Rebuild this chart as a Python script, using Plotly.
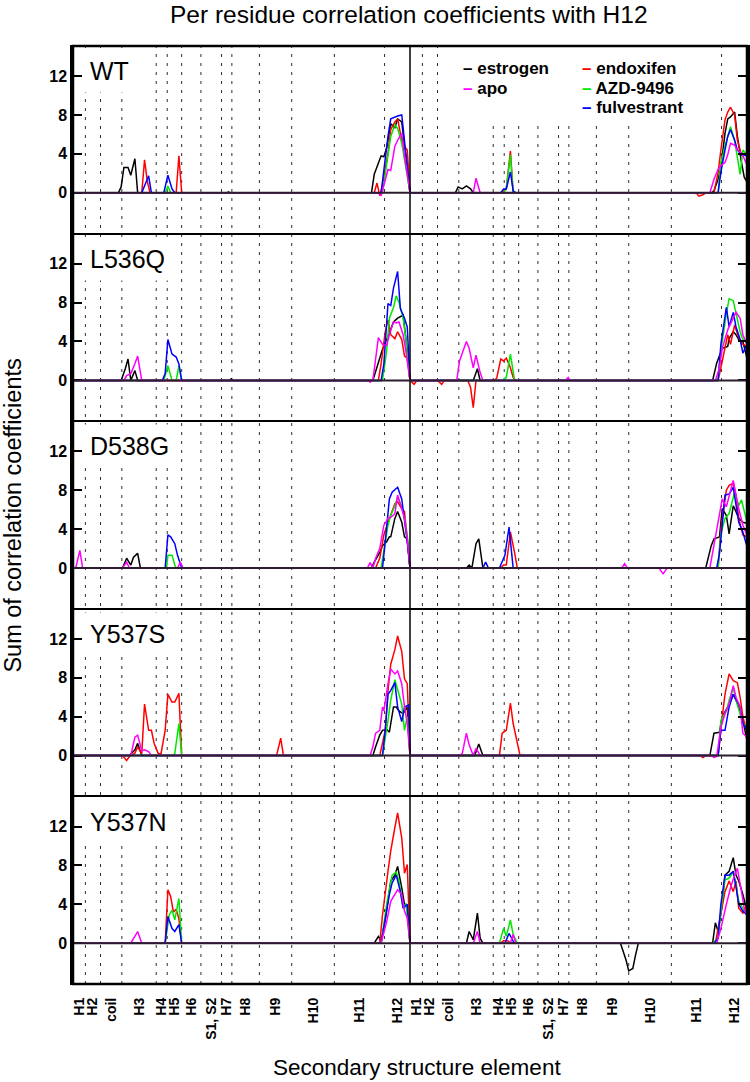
import plotly.graph_objects as go
from plotly.subplots import make_subplots

# --- data (residue number, summed correlation) ---
PANELS = ["WT", "L536Q", "D538G", "Y537S", "Y537N"]
SERIES = ["estrogen", "endoxifen", "AZD-9496", "fulvestrant", "apo"]
COLORS = {
    "estrogen": "#000000",
    "endoxifen": "#ff0000",
    "AZD-9496": "#00e800",
    "fulvestrant": "#0000ff",
    "apo": "#ff00ff",
}
DRAW_ORDER = ["estrogen", "endoxifen", "AZD-9496", "fulvestrant", "apo"]

CHAIN_FIRST, CHAIN_LAST = 305, 550
CHAIN_B_OFFSET = 245

ELEMENTS = ["H1", "H2", "coil", "H3", "H4", "H5", "H6", "S1, S2",
            "H7", "H8", "H9", "H10", "H11", "H12"]
BOUNDARIES = [314, 325, 340.5, 365.5, 373.5, 384, 398, 413, 420.5,
              440.5, 464, 495, 531.5]

WT_A = {
    "estrogen": [(338, 0), (340, 0.6), (342, 2.6), (345, 2.6), (347, 1.8), (350, 3.5), (352, 0),
                 (417, 0), (418, 0.1), (419, 0),
                 (522, 0), (524, 1.9), (527, 3.1), (529, 3.8), (531, 3.7), (533, 4.6), (536, 7.1),
                 (539, 6.7), (541, 7.6), (544, 7.3), (546, 4.8), (548, 2.8), (550, 0)],
    "endoxifen": [(355, 0), (357, 3.4), (359, 1.2), (361, 0), (380, 0), (382, 3.8), (384, 0),
                  (524, 0), (526, 1.0), (528, -0.3), (530, 0.8), (534, 4.1), (536, 6.5), (539, 7.3),
                  (541, 7.6), (544, 5.4), (546, 4.8), (548, 4.4), (550, 0)],
    "AZD-9496": [(372, 0), (374, 0.7), (376, 0),
                 (530, 0), (533, 3.1), (536, 5.8), (539, 7.0), (541, 6.6), (544, 5.1), (546, 3.4),
                 (548, 2.1), (550, 0)],
    "fulvestrant": [(355, 0), (360, 1.75), (362, 0), (371, 0), (374, 1.8), (377, 0.4), (379, 0),
                    (529, 0), (531, 2.6), (534, 5.8), (536, 7.6), (539, 7.8), (541, 7.9), (544, 8.0),
                    (546, 5.4), (548, 2.8), (550, 0)],
    "apo": [(527, 0), (529, -0.3), (531, 0.7), (534, 2.4), (536, 2.3), (539, 4.8), (541, 5.4),
            (544, 6.1), (546, 3.8), (548, 2.1), (550, 0)],
}
WT_B = {
    "estrogen": [(338, 0), (340, 0.6), (343, 0.4), (346, 0.7), (349, 0.4), (351, 0),
                 (524, 0), (526, 0.2), (529, 1.4), (531, 2.6), (534, 6.1), (536, 7.6), (538, 7.8),
                 (541, 8.3), (543, 5.8), (546, 3.1), (548, 1.6), (550, 1.1)],
    "endoxifen": [(371, 0), (375, 0.4), (378, 4.3), (380, 0), (513, 0), (515, -0.35), (518, -0.2),
                  (520, 0), (526, 0), (529, 2.1), (531, 4.4), (534, 7.5), (536, 8.3), (538, 8.8),
                  (541, 8.0), (543, 5.4), (546, 3.9), (550, 3.9)],
    "AZD-9496": [(373, 0), (375, 0.4), (378, 3.9), (380, 0),
                 (529, 0), (531, 3.1), (534, 4.8), (536, 5.8), (538, 6.8), (541, 5.4), (543, 3.8),
                 (545, 1.9), (547, 4.4), (550, 3.9)],
    "fulvestrant": [(371, 0), (373, 0.4), (375, 0.4), (378, 2.15), (380, 0.2), (382, 0),
                    (529, 0), (531, 2.1), (534, 4.4), (536, 5.8), (538, 6.5), (541, 5.4), (543, 4.4),
                    (546, 3.9), (550, 3.8)],
    "apo": [(351, 0), (353, 1.5), (356, 0),
            (523, 0), (526, 1.4), (529, 2.4), (531, 2.8), (534, 3.1), (536, 3.9), (538, 5.1),
            (541, 4.9), (543, 4.4), (546, 4.1), (550, 2.9)],
}

L536Q_A = {
    "estrogen": [(340, 0), (343, 1.2), (345, 2.2), (347, 0), (350, 1.0), (352, 0),
                 (419, 0), (420, 0.15), (421, 0),
                 (523, 0), (527, 1.7), (530, 3.2), (534, 4.5), (538, 6.0), (541, 6.4), (545, 6.7),
                 (547, 4.3), (550, 0)],
    "endoxifen": [(527, 0), (529, 1.7), (532, 5.0), (534, 6.2), (536, 4.7), (539, 4.3), (541, 5.0),
                  (544, 4.2), (546, 2.5), (548, 2.3), (550, 0)],
    "AZD-9496": [(371, 0), (374, 1.5), (377, 0), (380, 0), (382, 1.5), (384, 0),
                 (530, 0), (533, 3.0), (535, 6.4), (538, 7.5), (540, 8.7), (542, 8.0), (545, 6.4),
                 (547, 4.3), (550, 0)],
    "fulvestrant": [(370, 0), (372, 0.7), (374, 4.2), (377, 2.7), (380, 2.4), (382, 1.7), (384, 0),
                    (529, 0), (531, 1.7), (534, 7.9), (536, 7.7), (538, 9.5), (541, 11.2), (543, 7.4),
                    (546, 6.4), (548, 5.5), (550, 0)],
    "apo": [(342, 0), (344, 0.5), (347, 0.7), (350, 1.7), (352, 2.5), (355, 0),
            (520, 0), (521, -0.2), (523, 0), (527, 4.4), (530, 3.7), (533, 3.6), (535, 4.7),
            (538, 6.0), (540, 5.9), (542, 6.0), (545, 4.7), (547, 3.0), (550, 0)],
}
L536Q_B = {
    "estrogen": [(351, 0), (354, 1.2), (356, 0),
                 (525, 0), (528, 1.8), (530, 2.5), (532, 3.3), (536, 3.5), (537, 4.3), (540, 5.0),
                 (542, 4.7), (544, 4.2), (547, 4.0), (550, 2.3)],
    "endoxifen": [(305, 0), (308, -0.4), (310, 0), (325, 0), (328, -0.4), (330, 0),
                  (347, 0), (349, -0.7), (351, -2.8), (353, 0),
                  (366, 0), (368, 0.2), (371, 2.2), (373, 2.0), (375, 2.3), (378, 1.3), (380, 0.3),
                  (382, 0), (529, 0), (531, 1.3), (534, 3.2), (536, 4.7), (538, 3.7), (541, 5.7),
                  (543, 4.8), (546, 3.8), (550, 3.5)],
    "AZD-9496": [(372, 0), (375, 0.3), (378, 2.7), (381, 0),
                 (529, 0), (531, 3.0), (535, 6.9), (537, 8.4), (540, 8.2), (542, 6.9), (545, 5.0),
                 (547, 4.2), (550, 3.8)],
    "fulvestrant": [(529, 0), (531, 3.7), (535, 7.5), (537, 5.5), (540, 7.0), (542, 5.5), (545, 4.2),
                    (547, 2.8), (550, 3.7)],
    "apo": [(339, 0), (341, 2.0), (343, 2.8), (346, 4.0), (348, 3.3), (351, 1.3), (353, 2.6),
            (356, 0.8), (358, 0), (418, 0), (420, 0.3), (421, 0),
            (527, 0), (530, 1.3), (532, 3.3), (536, 5.2), (540, 6.4), (542, 7.0), (545, 6.4),
            (547, 4.7), (550, 3.7)],
}

D538G_A = {
    "estrogen": [(341, 0), (344, 1.0), (347, 0.3), (349, 1.1), (352, 1.5), (354, 0),
                 (522, 0), (524, 0.6), (528, 1.6), (530, 2.3), (533, 2.7), (535, 3.2), (536, 3.2),
                 (539, 5.1), (541, 5.8), (544, 4.7), (546, 3.2), (548, 3.0), (550, 0)],
    "endoxifen": [(525, 0), (528, 1.0), (531, 3.4), (534, 4.7), (536, 5.4), (539, 6.6), (541, 6.8),
                  (544, 6.1), (546, 5.8), (548, 3.0), (550, 0)],
    "AZD-9496": [(373, 0), (374, 1.3), (377, 1.3), (379, 0.3), (380, 0),
                 (529, 0), (531, 1.6), (534, 4.4), (536, 5.4), (539, 6.4), (541, 7.3), (544, 6.3),
                 (546, 5.1), (548, 3.4), (550, 0)],
    "fulvestrant": [(372, 0), (374, 3.4), (376, 3.2), (379, 2.5), (381, 1.3), (384, 0),
                    (530, 0), (532, 2.7), (535, 7.1), (537, 7.8), (540, 8.2), (541, 8.3), (544, 7.1),
                    (546, 5.1), (548, 2.7), (550, 0)],
    "apo": [(307, 0), (310, 1.8), (312, 0), (341, 0), (344, 0.6), (346, 0), (381, 0), (383, 0.6),
            (385, 0), (519, 0), (521, 0.55), (523, 0), (525, 1.0), (528, 2.0), (531, 4.4),
            (534, 5.1), (536, 5.2), (539, 5.6), (541, 7.5), (544, 6.1), (546, 5.1), (548, 3.0),
            (550, 0)],
}
D538G_B = {
    "estrogen": [(346, 0), (348, 0.3), (350, 0), (353, 2.5), (355, 3.0), (358, 0),
                 (520, 0), (524, 2.3), (526, 3.0), (530, 3.2), (532, 6.1), (535, 5.4), (537, 3.5),
                 (540, 6.4), (542, 5.8), (544, 5.1), (547, 4.7), (550, 4.6)],
    "endoxifen": [(371, 0), (373, 0.3), (375, 0.3), (378, 3.7), (381, 1.6), (383, 0),
                  (529, 0), (531, 4.0), (535, 8.0), (537, 8.5), (540, 8.7), (542, 7.5), (544, 5.1),
                  (547, 3.4), (550, 3.2)],
    "AZD-9496": [(529, 0), (531, 3.5), (534, 5.1), (537, 5.6), (539, 6.8), (541, 7.8), (544, 6.4),
                 (546, 7.0), (550, 4.7)],
    "fulvestrant": [(358, 0), (360, 0.6), (362, 0), (370, 0), (374, 1.3), (377, 4.2), (380, 0),
                    (528, 0), (530, 1.5), (534, 7.5), (537, 7.6), (540, 8.3), (542, 6.6), (544, 4.7),
                    (547, 3.7), (550, 2.2)],
    "apo": [(459, 0), (461, 0.45), (463, 0), (486, 0), (489, -0.6), (492, 0),
            (523, 0), (526, 2.5), (530, 5.4), (532, 7.1), (535, 6.3), (537, 7.5), (540, 9.0),
            (542, 7.5), (544, 6.1), (547, 4.4), (550, 3.4)],
}

Y537S_A = {
    "estrogen": [(346, 0), (350, 0.6), (352, 1.25), (355, 0),
                 (523, 0), (525, 0.9), (528, 2.1), (530, 2.6), (533, 2.7), (535, 2.4), (538, 5.0),
                 (540, 5.0), (542, 4.6), (545, 4.3), (548, 5.0), (550, 0)],
    "endoxifen": [(341, 0), (344, -0.5), (346, -0.1), (350, 0.25), (352, 0.9), (355, 0.2),
                  (357, 5.3), (360, 2.6), (362, 2.6), (364, 1.25), (367, 0.2), (369, 0.2),
                  (372, 2.6), (374, 6.3), (377, 5.5), (379, 5.5), (382, 6.4), (384, 0),
                  (453, 0), (456, 1.8), (458, 0),
                  (528, 0), (532, 2.6), (534, 6.7), (536, 9.4), (539, 10.9), (541, 12.3),
                  (544, 10.7), (546, 7.9), (548, 7.4), (550, 0)],
    "AZD-9496": [(377, 0), (379, 0.2), (382, 3.3), (384, 0),
                 (530, 0), (534, 3.6), (536, 5.7), (539, 7.8), (541, 6.7), (544, 5.3), (546, 2.6),
                 (548, 4.0), (550, 0)],
    "fulvestrant": [(530, 0), (532, 2.6), (534, 6.3), (536, 6.7), (539, 7.5), (541, 5.0), (544, 3.5),
                    (546, 5.0), (549, 5.2), (550, 0)],
    "apo": [(347, 0), (350, 1.9), (352, 2.1), (355, 0.5), (357, 0.6), (360, 0.4), (362, 0),
            (521, 0), (523, 0.9), (525, 2.3), (528, 2.6), (530, 5.0), (531, 4.6), (534, 7.4),
            (536, 8.9), (539, 8.4), (541, 8.7), (544, 7.4), (546, 5.0), (548, 3.3), (550, 0)],
}
Y537S_B = {
    "estrogen": [(352, 0), (355, 1.2), (358, 0),
                 (523, 0), (526, 2.3), (530, 2.4), (532, 4.0), (536, 5.0), (540, 6.3), (542, 5.7),
                 (544, 5.0), (547, 3.6), (550, 1.6)],
    "endoxifen": [(370, 0), (372, 2.3), (375, 2.6), (378, 5.4), (380, 3.3), (383, 1.1), (385, 0),
                  (516, 0), (518, -0.2), (520, 0),
                  (529, 0), (532, 4.0), (534, 6.3), (537, 8.4), (540, 7.7), (543, 7.5), (545, 6.0),
                  (547, 4.0), (550, 2.3)],
    "AZD-9496": [(529, 0), (531, 3.6), (535, 4.6), (537, 5.7), (540, 7.0), (542, 5.7), (545, 4.3),
                 (547, 3.3), (550, 2.9)],
    "fulvestrant": [(529, 0), (531, 2.6), (534, 2.6), (537, 5.0), (540, 6.3), (542, 5.8), (545, 5.0),
                    (547, 3.3), (550, 2.6)],
    "apo": [(341, 0), (343, 0.2), (346, 2.3), (348, 1.1), (351, 0), (353, 0.75), (356, 0),
            (524, 0), (526, -0.2), (528, -0.1), (531, 2.9), (534, 4.3), (537, 5.3), (540, 7.2),
            (542, 6.0), (545, 5.0), (547, 2.3), (550, 1.9)],
}

Y537N_A = {
    "estrogen": [(524, 0), (527, 0.7), (529, 0.2), (532, 2.4), (534, 4.6), (536, 6.4), (539, 7.0),
                 (541, 7.9), (544, 5.7), (546, 4.0), (548, 3.6), (550, 0)],
    "endoxifen": [(372, 0), (374, 5.5), (376, 4.8), (378, 3.2), (380, 3.5), (382, 2.5), (384, 0),
                  (528, 0), (530, 2.9), (534, 7.4), (536, 9.5), (539, 11.9), (541, 13.4),
                  (544, 10.8), (546, 7.2), (548, 8.1), (550, 0)],
    "AZD-9496": [(372, 0), (375, 2.9), (377, 3.4), (379, 2.4), (382, 4.6), (384, 0),
                 (529, 0), (533, 4.0), (535, 5.7), (537, 7.0), (540, 7.3), (542, 6.4), (545, 3.6),
                 (547, 4.1), (550, 0)],
    "fulvestrant": [(372, 0), (374, 2.75), (377, 1.5), (379, 1.2), (382, 1.9), (384, 0),
                    (529, 0), (533, 3.3), (535, 5.0), (537, 6.2), (540, 7.0), (543, 5.3), (545, 3.6),
                    (548, 4.0), (550, 0)],
    "apo": [(347, 0), (352, 1.2), (355, 0),
            (529, 0), (533, 2.2), (536, 4.3), (539, 5.0), (541, 5.5), (544, 5.0), (546, 3.3),
            (548, 2.6), (550, 0)],
}
Y537N_B = {
    "estrogen": [(346, 0), (348, 1.2), (351, 0.35), (354, 3.1), (356, 0.5), (358, 0),
                 (458, 0), (462, -1.7), (464, -2.85), (467, -2.6), (469, -1.2), (471, 0),
                 (525, 0), (527, 2.1), (529, 1.2), (532, 4.0), (534, 7.0), (537, 7.4), (540, 8.8),
                 (542, 7.0), (544, 6.4), (547, 5.0), (550, 3.3)],
    "endoxifen": [(371, 0), (373, 0.25), (376, 0.25), (378, 0),
                  (527, 0), (531, 2.9), (534, 5.3), (537, 6.4), (540, 5.3), (542, 6.4), (544, 3.6),
                  (547, 3.1), (550, 4.0)],
    "AZD-9496": [(370, 0), (373, 1.5), (375, 0.7), (378, 2.4), (380, 0.9), (383, 0),
                 (525, 0), (529, 0.5), (531, 3.3), (534, 6.5), (537, 6.7), (540, 7.3), (542, 6.0),
                 (544, 4.3), (547, 3.6), (550, 3.1)],
    "fulvestrant": [(374, 0), (377, 1.0), (380, 0.2), (381, 0),
                    (526, 0), (529, 0.5), (531, 4.0), (534, 7.0), (537, 7.0), (540, 7.4), (542, 5.8),
                    (544, 4.0), (547, 3.3), (550, 2.9)],
    "apo": [(351, 0), (354, 1.2), (356, 0), (378, 0), (380, 0.9), (382, 0),
            (528, 0), (531, 1.5), (535, 4.0), (538, 5.7), (541, 7.0), (543, 7.7), (546, 5.3),
            (548, 3.6), (550, 2.9)],
}

PANEL_DATA = {
    "WT": (WT_A, WT_B),
    "L536Q": (L536Q_A, L536Q_B),
    "D538G": (D538G_A, D538G_B),
    "Y537S": (Y537S_A, Y537S_B),
    "Y537N": (Y537N_A, Y537N_B),
}

Y_RANGE = [-4.2, 15.1]
FONT = "Liberation Sans, Arial, sans-serif"


def chain_xy(points, offset):
    pts = list(points)
    if not pts or pts[0][0] > CHAIN_FIRST:
        pts = [(CHAIN_FIRST, 0.0)] + pts
    if pts[-1][0] < CHAIN_LAST:
        pts = pts + [(CHAIN_LAST, 0.0)]
    return [r + offset for r, _ in pts], [v for _, v in pts]


fig = make_subplots(rows=len(PANELS), cols=1, shared_xaxes=True, vertical_spacing=0)

for row, panel in enumerate(PANELS, start=1):
    chain_a, chain_b = PANEL_DATA[panel]
    for name in DRAW_ORDER:
        xa, ya = chain_xy(chain_a.get(name, []), 0)
        xb, yb = chain_xy(chain_b.get(name, []), CHAIN_B_OFFSET)
        fig.add_trace(
            go.Scatter(x=xa + xb, y=ya + yb, mode="lines",
                       line=dict(color=COLORS[name], width=1.5),
                       name=name, showlegend=False, hoverinfo="skip"),
            row=row, col=1,
        )

# element boundaries (dashed) for both chains, chain divider solid
shapes = []
for offset in (0, CHAIN_B_OFFSET):
    for b in BOUNDARIES:
        shapes.append(dict(type="line", xref="x", yref="paper", x0=b + offset, x1=b + offset,
                           y0=0, y1=1, layer="below",
                           line=dict(color="#2e2e2e", width=1, dash="3px,6px")))
# white box behind the legend text
shapes.append(dict(type="rect", xref="paper", yref="paper", x0=0.551, x1=0.93, y0=0.917, y1=1,
                   layer="below", fillcolor="white", line=dict(width=0)))
shapes.append(dict(type="line", xref="x", yref="paper", x0=CHAIN_LAST, x1=CHAIN_LAST, y0=0, y1=1,
                   layer="above", line=dict(color="black", width=1.5)))
# dark baseline over the traces
for row in range(1, len(PANELS) + 1):
    yref = "y" if row == 1 else f"y{row}"
    shapes.append(dict(type="line", xref="paper", yref=yref, x0=0, x1=1, y0=0, y1=0,
                       layer="above", line=dict(color="#2b1d2e", width=2)))
# outer frame
shapes.append(dict(type="rect", xref="paper", yref="paper", x0=0, x1=1, y0=0, y1=1,
                   layer="above", line=dict(color="black", width=2.5)))

centers = []
edges = [CHAIN_FIRST] + BOUNDARIES + [CHAIN_LAST]
for offset in (0, CHAIN_B_OFFSET):
    for i in range(len(ELEMENTS)):
        centers.append((edges[i] + edges[i + 1]) / 2 + offset)
tick_text = ELEMENTS + ELEMENTS

fig.update_xaxes(
    range=[CHAIN_FIRST, CHAIN_LAST + CHAIN_B_OFFSET],
    showline=True, mirror=True, linewidth=1.3, linecolor="black",
    showgrid=False, zeroline=False, ticks="",
    tickmode="array", tickvals=centers, ticktext=tick_text,
    showticklabels=False,
)
fig.update_xaxes(showticklabels=True, tickangle=-90, ticklabelstandoff=7,
                 tickfont=dict(family=FONT, size=14, color="black", weight="bold"),
                 row=len(PANELS), col=1)
fig.update_yaxes(
    range=Y_RANGE, tickmode="array", tickvals=[0, 4, 8, 12],
    ticks="inside", ticklen=9, tickwidth=2, tickcolor="black",
    showline=True, mirror="ticks", linewidth=2.5, linecolor="black",
    showgrid=False, zeroline=False,
    tickfont=dict(family=FONT, size=16, color="black", weight="bold"),
)

annotations = []
panel_h = 1.0 / len(PANELS)
for i, panel in enumerate(PANELS):
    top = 1 - i * panel_h
    annotations.append(dict(
        text=panel, xref="paper", yref="paper", x=0.013, y=top - 0.0035,
        xanchor="left", yanchor="top", showarrow=False, bgcolor="white", borderpad=7,
        font=dict(family=FONT, size=25, color="black"),
    ))

legend_cols = [["estrogen", "apo"], ["endoxifen", "AZD-9496", "fulvestrant"]]
legend_x = [0.576, 0.7516]
legend_y = [0.9755, 0.9552, 0.9349]
for col, names in enumerate(legend_cols):
    for j, name in enumerate(names):
        annotations.append(dict(
            text=f"<span style='color:{COLORS[name]}'>–</span> {name}",
            xref="paper", yref="paper", x=legend_x[col], y=legend_y[j],
            xanchor="left", yanchor="middle", showarrow=False,
            font=dict(family=FONT, size=17, color="black", weight="bold"),
        ))

annotations.append(dict(text="Sum of correlation coefficients", xref="paper", yref="paper",
                        x=-0.0895, y=0.499, textangle=-90, showarrow=False,
                        xanchor="center", yanchor="middle",
                        font=dict(family=FONT, size=23.5, color="black")))
annotations.append(dict(text="Secondary structure element", xref="paper", yref="paper",
                        x=0.511, y=-0.089, showarrow=False, xanchor="center", yanchor="middle",
                        font=dict(family=FONT, size=22.5, color="black")))

fig.update_layout(
    width=750, height=1082,
    margin=dict(l=73, r=3, t=46, b=98, autoexpand=False),
    paper_bgcolor="white", plot_bgcolor="white",
    title=dict(text="Per residue correlation coefficients with H12", x=0.545, xanchor="center",
               y=0.987, yanchor="middle", font=dict(family=FONT, size=24.5, color="black")),
    shapes=shapes, annotations=annotations, showlegend=False,
)

fig.write_html("out.html", config={"displayModeBar": False},
               post_script="document.body.style.margin = '0px';")
